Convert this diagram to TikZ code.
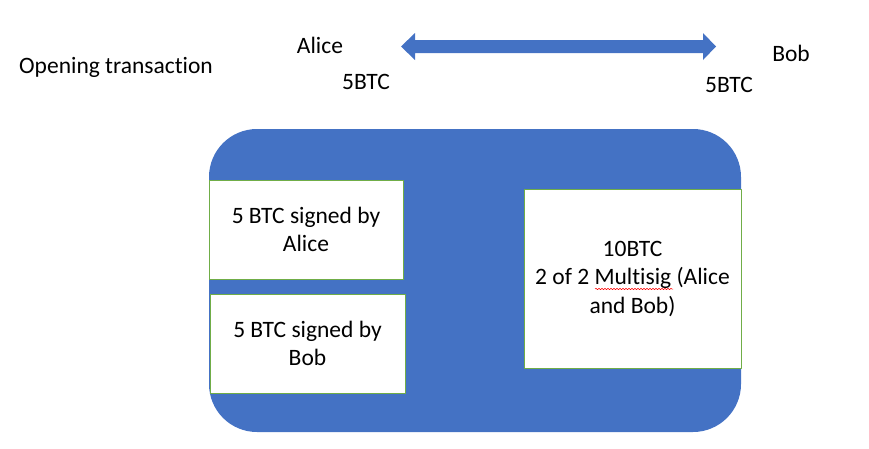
\documentclass[tikz,border=0pt]{standalone}
\usepackage{fontspec}
\setmainfont[Ligatures={NoCommon}]{Carlito}
\usetikzlibrary{decorations.pathmorphing}
\definecolor{chanblue}{HTML}{4472C4}
\definecolor{boxgreen}{HTML}{70AD47}
\begin{document}
\begin{tikzpicture}[x=1pt,y=-1pt, line join=round,
    every node/.style={font=\fontsize{23.5}{28.5}\selectfont, text=black},
    utxo/.style={draw=boxgreen, line width=0.8pt, fill=white, align=center, inner sep=0pt}]
    \def\bl{209} \def\br{741} \def\bt{129} \def\bb{432}
    \useasboundingbox (0,0) rectangle (869,448);
    \node (open) at (116,67) {Opening transaction};
    \node (alice) at (320,45) {Alice};
    \node (bob) at (791,53) {Bob};
    \node (amtA) at (366,82) {5BTC};
    \node (amtB) at (729,85) {5BTC};
    % two-way arrow between the parties
    \fill[chanblue] (401,46.5) -- (415,33) -- (415,40) -- (703,40) -- (703,33) -- (716,46.5)
        -- (703,60) -- (703,53) -- (415,53) -- (415,60) -- cycle;
    % the channel
    \fill[chanblue, rounded corners=48pt] (\bl,\bt) rectangle (\br,\bb);
    \node[utxo, minimum width=194pt, minimum height=99pt] (inA) at (306,229.5) {5 BTC signed by\\Alice};
    \node[utxo, minimum width=195pt, minimum height=99pt] (inB) at (307.5,343.5) {5 BTC signed by\\Bob};
    \node[utxo, minimum width=217pt, minimum height=179pt] (multisig) at (632.5,278.5) {10BTC\\2 of 2 Multisig (Alice\\and Bob)};
    \draw[red, line width=0.5pt, decorate, decoration={snake, segment length=3pt, amplitude=0.7pt}] (595,289) -- (673,289);
\end{tikzpicture}
\end{document}
